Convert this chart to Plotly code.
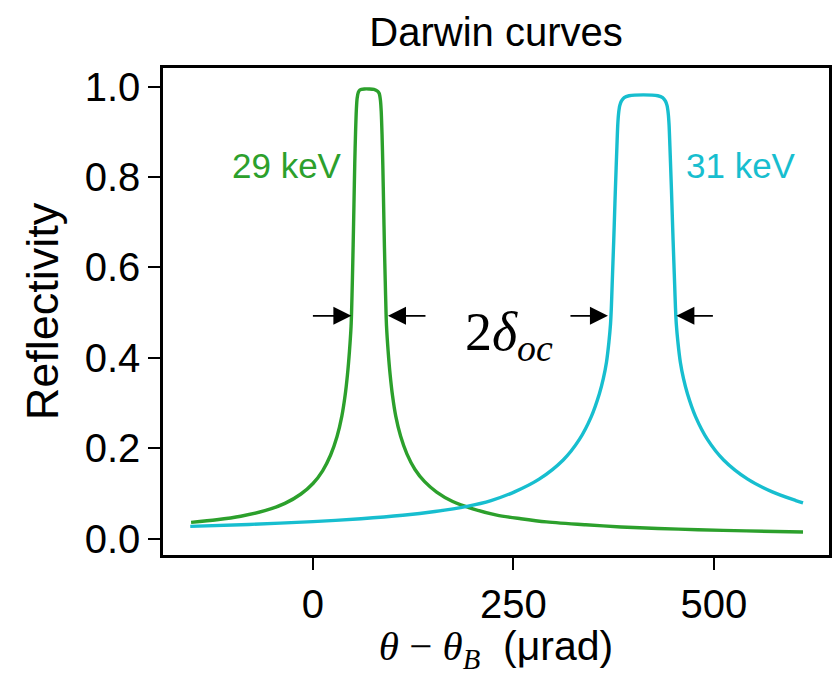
import plotly.graph_objects as go

# Reflectivity vs. angular offset from the Bragg angle (µrad)
theta_29kev = [-152, -120, -90, -60, -35, -15, 0, 12, 22, 30, 36, 40, 43, 45.5, 47.5,
               48.1, 49.1, 50.1, 51.1, 52.1, 53.1, 54.1, 55.1, 56.6, 58.6, 64, 70, 76,
               80.6, 82.6, 84.1, 85.1, 86.1, 87.1, 88.1, 89.1, 90.1, 91.1, 91.7, 93.7,
               96.2, 99.2, 103.2, 109.2, 117.2, 127.2, 139.2, 154.2, 174.2, 199.2,
               229.2, 259.2, 291.2, 340, 384, 430, 480, 540, 611]
refl_29kev = [0.036, 0.0417, 0.0495, 0.0617, 0.0779, 0.0987, 0.122, 0.15, 0.185, 0.226,
              0.271, 0.316, 0.363, 0.415, 0.47, 0.5, 0.57, 0.65, 0.74, 0.83, 0.9, 0.95,
              0.975, 0.988, 0.993, 0.995, 0.995, 0.994, 0.99, 0.985, 0.97, 0.945, 0.895,
              0.825, 0.735, 0.645, 0.57, 0.5, 0.47, 0.415, 0.363, 0.316, 0.271, 0.227,
              0.187, 0.153, 0.126, 0.103, 0.082, 0.066, 0.052, 0.044, 0.037, 0.0305,
              0.0258, 0.0224, 0.0196, 0.017, 0.0146]

theta_31kev = [-153, -80, 0, 60, 112, 152, 192, 222, 252, 282, 312, 332, 347, 357, 362,
               366, 369, 371, 372, 373, 374, 375, 376, 377, 378, 379, 380, 381, 382.5,
               384.5, 388, 394, 412, 430, 436, 439.5, 441.5, 443, 444, 445, 446, 447,
               448, 449, 450, 451, 452, 453, 455, 458, 462, 467, 477, 492, 512, 542,
               572, 602, 611]
refl_31kev = [0.0271, 0.0313, 0.0376, 0.044, 0.0517, 0.06, 0.0714, 0.0842, 0.104, 0.1315,
              0.174, 0.219, 0.27, 0.32, 0.354, 0.391, 0.435, 0.475, 0.51, 0.56, 0.61,
              0.66, 0.715, 0.77, 0.82, 0.87, 0.915, 0.94, 0.958, 0.968, 0.976, 0.98,
              0.982, 0.98, 0.976, 0.968, 0.958, 0.94, 0.915, 0.87, 0.82, 0.77, 0.715,
              0.66, 0.61, 0.56, 0.51, 0.475, 0.435, 0.391, 0.354, 0.32, 0.27, 0.219,
              0.174, 0.1315, 0.104, 0.0842, 0.079]

x_ticks = [0, 250, 500]
y_ticks = [0.0, 0.2, 0.4, 0.6, 0.8, 1.0]

GREEN = "#2ca02c"
CYAN = "#17becf"
SANS = "Liberation Sans"
SERIF = "Liberation Serif"

fig = go.Figure()
fig.add_trace(go.Scatter(x=theta_29kev, y=refl_29kev, mode="lines",
                         line=dict(color=GREEN, width=3.4, shape="spline", smoothing=0.8),
                         name="29 keV", showlegend=False))
fig.add_trace(go.Scatter(x=theta_31kev, y=refl_31kev, mode="lines",
                         line=dict(color=CYAN, width=3.4, shape="spline", smoothing=0.8),
                         name="31 keV", showlegend=False))

annotations = [
    dict(x=-33, y=0.826, text="29 keV", showarrow=False,
         font=dict(family=SANS, size=35, color=GREEN)),
    dict(x=534, y=0.826, text="31 keV", showarrow=False,
         font=dict(family=SANS, size=35, color=CYAN)),
    dict(x=245, y=0.45, text="2<i>δ</i><sub><i>oc</i></sub>", showarrow=False,
         font=dict(family=SERIF, size=54, color="black")),
]

# width markers at half maximum
arrow_level = 0.493
for tip, dx in [(47.9, -40), (93.5, 39), (367.8, -39), (453.1, 38)]:
    annotations.append(dict(x=tip, y=arrow_level, ax=dx, ay=0, text="",
                            showarrow=True, arrowhead=2, arrowsize=2,
                            arrowwidth=1.8, arrowcolor="black"))

axis_common = dict(showline=True, linewidth=2.5, linecolor="black", mirror=True,
                   ticks="outside", ticklen=12, tickwidth=2, tickcolor="black",
                   showgrid=False, zeroline=False, automargin=False,
                   tickfont=dict(family=SANS, size=40, color="black"))

fig.update_layout(
    width=833, height=675,
    margin=dict(l=163, r=4, t=68, b=120),
    paper_bgcolor="white", plot_bgcolor="white",
    title=dict(text="Darwin curves", x=0.5, xref="paper", y=0.953, yref="container",
               xanchor="center", yanchor="middle",
               font=dict(family=SANS, size=40, color="black")),
    xaxis=dict(range=[-187, 643.4], tickvals=x_ticks, ticktext=[str(v) for v in x_ticks],
               title=dict(text="<span style='font-family:Liberation Serif'><i>θ</i> − <i>θ</i><sub><i>B</i></sub></span>  (μrad)",
                          font=dict(family=SANS, size=41, color="black"), standoff=21),
               **axis_common),
    yaxis=dict(range=[-0.0363, 1.0414], tickvals=y_ticks,
               ticktext=[f"{v:.1f}" for v in y_ticks],
               title=dict(text="Reflectivity", font=dict(family=SANS, size=45, color="black"),
                          standoff=12),
               **axis_common),
    annotations=annotations,
)

fig.write_html("out.html")
